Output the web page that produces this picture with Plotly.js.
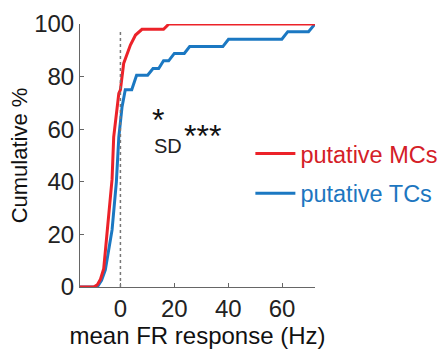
<!DOCTYPE html>
<html><head><meta charset="utf-8">
<script src="https://cdn.plot.ly/plotly-3.0.1.min.js"></script>
<style>html,body{margin:0;padding:0;background:#fff;}#chart{width:443px;height:349px;}</style>
</head><body><div id="chart"></div>
<script>
var mcX = [-15, -9.9, -8.6, -7.4, -6.2, -4.3, -3.1, -2.5, -0.6, 0, 1.2, 3.7, 5.6, 8, 16, 18, 72.2];
var mcY = [0, 0, 0.8, 3, 7, 28, 41, 57, 73.6, 75, 85, 92, 95.8, 98, 98, 100, 100];
var tcX = [-15, -8.6, -7, -5.6, -3.1, -1.5, -0.6, 0.6, 1.8, 4.2, 6, 10.1, 12.1, 14.2, 16, 17.9, 20, 23.7, 25.7, 38, 40.1, 59.9, 62.1, 69.8, 72.2];
var tcY = [0, 0, 2.5, 6.5, 21.7, 40, 57, 68.5, 75, 75, 80.5, 80.5, 83.1, 83.1, 86, 86, 88.8, 88.8, 91.4, 91.4, 94.2, 94.2, 97.1, 97.1, 100];
var seriesNames = ['putative MCs', 'putative TCs'];
var xTicks = [0, 20, 40, 60];
var yTicks = [0, 20, 40, 60, 80, 100];

var RED = '#ec2229', BLUE = '#1b78c2';
var RED_TXT = '#d42027', BLUE_TXT = '#1d76c0';
var FONT = 'Liberation Sans, Arial, sans-serif';

function colored(t, c) { return '<span style="color:' + c + '">' + t + '</span>'; }

var traces = [
  {x: tcX, y: tcY, mode: 'lines', name: colored(seriesNames[1], BLUE_TXT), legendgroup: 'b', legendrank: 2,
   line: {color: BLUE, width: 3}},
  {x: mcX, y: mcY, mode: 'lines', name: colored(seriesNames[0], RED_TXT), legendgroup: 'a', legendrank: 1,
   line: {color: RED, width: 3}}
];

var layout = {
  width: 443, height: 349,
  margin: {l: 80, r: 128, t: 24, b: 62, autoexpand: false},
  paper_bgcolor: '#fff', plot_bgcolor: '#fff',
  font: {family: FONT, size: 24, color: '#222'},
  showlegend: true,
  legend: {x: 0.725, y: 0.59, xanchor: 'left', yanchor: 'top', traceorder: 'grouped',
           tracegroupgap: 6, itemwidth: 40, bgcolor: 'rgba(0,0,0,0)', font: {size: 23.5}},
  xaxis: {range: [-15, 72.2], tickvals: xTicks, ticktext: xTicks.map(String),
          ticks: 'inside', ticklen: 4, tickcolor: '#666', showline: true, linecolor: '#666', linewidth: 1,
          showgrid: false, zeroline: false, tickfont: {size: 24, color: '#222'},
          title: {text: 'mean FR response (Hz)', font: {size: 24, color: '#111'}, standoff: 4}},
  yaxis: {range: [0, 100], tickvals: yTicks, ticktext: yTicks.map(String),
          ticks: 'inside', ticklen: 4, tickcolor: '#666', showline: true, linecolor: '#666', linewidth: 1,
          showgrid: false, zeroline: false, tickfont: {size: 24, color: '#222'},
          title: {text: 'Cumulative %', font: {size: 22, color: '#111'}, standoff: 0}},
  shapes: [{type: 'line', xref: 'x', yref: 'y', x0: 0, x1: 0, y0: 0, y1: 98,
            line: {color: '#777', width: 1.5, dash: 'dot'}}],
  annotations: [
    {x: 13.9, y: 63.5, xref: 'x', yref: 'y', text: '*', showarrow: false, font: {size: 32, color: '#111'}},
    {x: 17.6, y: 53.5, xref: 'x', yref: 'y', text: 'SD', showarrow: false, font: {size: 20, color: '#222'}},
    {x: 30.4, y: 57.3, xref: 'x', yref: 'y', text: '***', showarrow: false, font: {size: 32, color: '#111'}}
  ]
};
Plotly.newPlot('chart', traces, layout, {displayModeBar: false, staticPlot: true});
</script></body></html>
